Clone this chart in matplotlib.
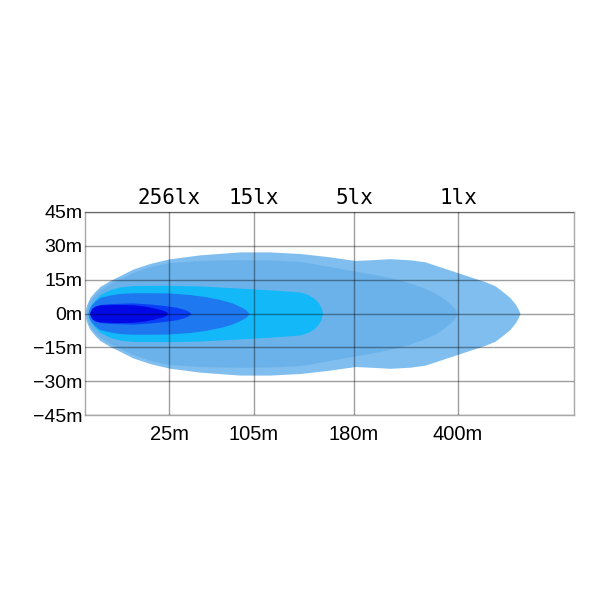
import numpy as np
import matplotlib
matplotlib.use('Agg')
import matplotlib.pyplot as plt

# position along the beam (chart units, axis is not linear in metres)
tick_pos = [84, 169, 269, 373]
dist_labels = ['25m', '105m', '180m', '400m']
lux_labels = ['256lx', '15lx', '5lx', '1lx']

y_ticks = [-45, -30, -15, 0, 15, 30, 45]
y_labels = ['\u221245m', '\u221230m', '\u221215m', '0m', '15m', '30m', '45m']

# beam outlines: position -> half width (m), from outermost to innermost
x_1lx = [0, 1, 3, 5, 10, 15, 25, 35, 48, 65, 84, 115, 155, 185, 215, 245, 270, 285, 305,
         325, 340, 355, 370, 385, 400, 410, 418, 425, 430, 433, 435]
w_1lx = [0, 3.1, 5.3, 7.1, 9.8, 12.0, 14.6, 16.8, 19.7, 22.2, 24.2, 26.0, 27.3, 27.3, 26.6,
         25.1, 23.5, 23.8, 24.3, 23.8, 22.9, 20.7, 18.5, 16.3, 14.1, 12.3, 9.6, 7.0, 4.3, 2.1, 0]

x_5lx = [1, 3, 5, 10, 15, 25, 35, 48, 65, 84, 115, 155, 185, 215, 245, 270, 295, 315, 335,
         350, 360, 367, 371, 372]
w_5lx = [0, 4.0, 5.8, 8.4, 10.6, 13.3, 15.5, 18.2, 20.8, 22.6, 23.5, 23.9, 23.7, 23.1, 20.8,
         18.8, 16.8, 14.9, 12.0, 9.1, 6.2, 3.5, 1.3, 0]

x_15lx = [3, 4, 6, 10, 15, 25, 35, 48, 84, 115, 145, 169, 195, 215, 223, 229, 233, 236, 237.5]
w_15lx = [0, 2.2, 4.0, 6.2, 8.4, 10.6, 11.8, 12.4, 12.5, 12.2, 11.5, 10.9, 10.2, 9.5, 8.4,
          6.7, 4.9, 2.7, 0]

x_mid = [3, 4, 6, 10, 15, 25, 35, 48, 65, 84, 105, 120, 135, 147, 156, 161, 164]
w_mid = [0, 1.8, 3.5, 5.5, 7.1, 8.2, 8.9, 9.2, 9.2, 9.1, 8.4, 7.5, 6.2, 4.7, 2.9, 1.6, 0]

x_256lx = [5.5, 6.5, 8, 11, 15, 25, 48, 65, 80, 90, 98, 103, 106]
w_256lx = [0, 1.3, 2.4, 3.3, 4.0, 4.4, 4.7, 4.2, 3.5, 2.9, 2.0, 1.1, 0]

x_core = [4.5, 5.5, 7, 10, 15, 30, 48, 60, 70, 77, 81, 83]
w_core = [0, 1.3, 2.4, 3.3, 3.8, 4.0, 3.9, 3.3, 2.4, 1.6, 0.8, 0]

shapes = [
    (x_1lx, w_1lx, '#7fbeee'),
    (x_5lx, w_5lx, '#6cb2ea'),
    (x_15lx, w_15lx, '#12b8f8'),
    (x_mid, w_mid, '#1e78f0'),
    (x_256lx, w_256lx, '#0a40f5'),
    (x_core, w_core, '#0008e6'),
]

fig = plt.figure(figsize=(6, 6), dpi=100)
ax = fig.add_axes([0.1417, 0.3083, 0.815, 0.3384])

for xs, ws, color in shapes:
    xs = np.array(xs, dtype=float)
    ws = np.array(ws, dtype=float)
    ax.fill_between(xs, -ws, ws, color=color, linewidth=0, zorder=1)

ax.set_xlim(0, 489)
ax.set_ylim(-45, 45)

ax.set_yticks(y_ticks)
ax.set_yticklabels(y_labels, fontsize=14, family='Liberation Sans')
ax.set_xticks(tick_pos)
ax.set_xticklabels(dist_labels, fontsize=14.5, family='Liberation Sans')
ax.tick_params(axis='both', length=0)
ax.tick_params(axis='y', pad=2)
ax.tick_params(axis='x', pad=7)

top = ax.secondary_xaxis('top')
top.set_xticks(tick_pos)
top.set_xticklabels(lux_labels, fontsize=15, family='DejaVu Sans Mono')
top.tick_params(length=0, pad=3)
top.spines['top'].set_visible(False)

ax.set_axisbelow(False)
ax.grid(True, color='black', alpha=0.38, linewidth=1)
for s in ax.spines.values():
    s.set_color('#a8a8a8')
    s.set_linewidth(1)

fig.savefig('out.png', dpi=100)
